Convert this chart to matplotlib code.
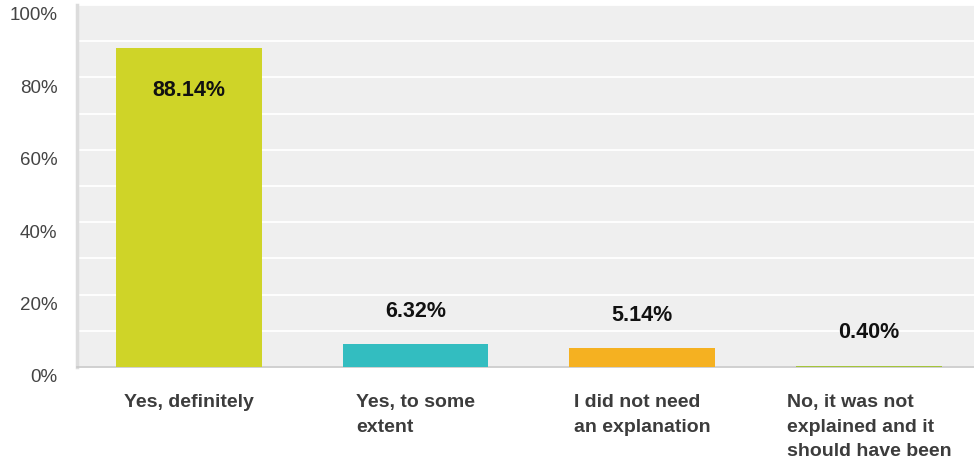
import matplotlib
matplotlib.use("Agg")
import matplotlib.pyplot as plt
import matplotlib.transforms as mtransforms
import numpy as np

# ─── Data ─────────────────────────────────────────────────────────────────────
CATEGORIES = [
    "Yes, definitely",
    "Yes, to some\nextent",
    "I did not need\nan explanation",
    "No, it was not\nexplained and it\nshould have been",
]
VALUES = [88.14, 6.32, 5.14, 0.40]
COLORS = ["#cfd428", "#33bdc0", "#f5b121", "#a4c43a"]
YTICKS = [0, 20, 40, 60, 80, 100]

plt.rcParams["font.family"] = ["Liberation Sans", "DejaVu Sans"]

fig = plt.figure(figsize=(9.74, 4.62), dpi=100)
ax = fig.add_axes([77 / 974, 1 - 367 / 462, 1 - 77 / 974, 362 / 462])

x = np.arange(len(CATEGORIES))
ax.bar(x, VALUES, width=0.643, color=COLORS, zorder=3)

ax.set_xlim(-0.493, 3.463)
ax.set_ylim(0, 100)
ax.set_facecolor("#efefef")

# grid: white lines every 10 %
ax.set_yticks(YTICKS)
ax.set_yticklabels([f"{v}%" for v in YTICKS], fontsize=13.5, color="#444444")
ax.set_yticks(range(10, 100, 20), minor=True)
ax.grid(axis="y", which="both", color="white", lw=1.3, zorder=1)
ax.tick_params(axis="y", which="both", length=0, pad=14)
# tick labels sit a little below their gridlines
off = mtransforms.ScaledTranslation(0, -0.09, fig.dpi_scale_trans)
for lbl in ax.get_yticklabels():
    lbl.set_transform(lbl.get_transform() + off)

ax.set_xticks([])
for s in ["top", "right"]:
    ax.spines[s].set_visible(False)
ax.spines["left"].set_color("#dcdcdc")
ax.spines["left"].set_linewidth(2.5)
ax.spines["bottom"].set_color("#c8c8c8")
ax.spines["bottom"].set_linewidth(1.2)
ax.spines["bottom"].set_zorder(2.5)

# value labels
for xi, v in zip(x, VALUES):
    y = v - 11.8 if v > 50 else v + 9.0
    ax.text(xi, y, f"{v:.2f}%", ha="center", va="center",
            fontsize=15.5, fontweight="bold", color="#111111", zorder=5)

# category labels: block centred under bar, lines left aligned
for xi, cat in zip(x, CATEGORIES):
    ax.text(xi, -7.4, cat, ha="center", va="top", multialignment="left",
            fontsize=14, fontweight="bold", color="#3c3c3c",
            linespacing=1.6, clip_on=False)

fig.savefig("out.png", dpi=100)
